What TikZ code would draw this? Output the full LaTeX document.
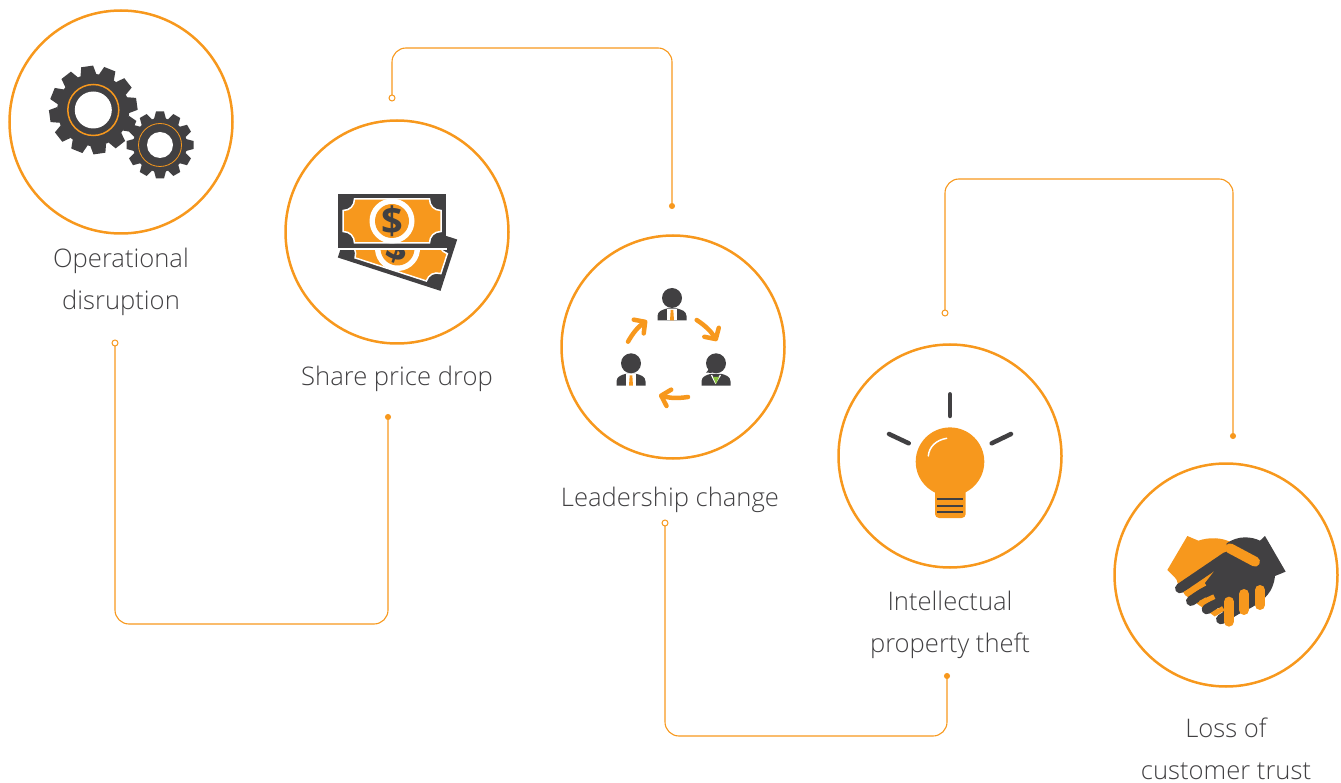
\documentclass[tikz,border=0pt]{standalone}
\usepackage{fontspec}
\setmainfont{Open Sans Light}
\newfontfamily\moneyfont{Open Sans}
\usetikzlibrary{arrows.meta}
\definecolor{brandorange}{HTML}{F7981D}
\definecolor{icondark}{HTML}{414042}
\definecolor{tiegreen}{HTML}{8CC63F}
\tikzset{
  ring/.style={draw=brandorange, circle, line width=2.5, minimum size=223, inner sep=0, outer sep=0},
  caption/.style={text=icondark, align=center, inner sep=0, anchor=base, font=\fontsize{25.6}{42}\selectfont},
  link/.style={draw=brandorange, line width=1.1, rounded corners=14},
  openend/.style={draw=brandorange, fill=white, circle, line width=1, minimum size=6, inner sep=0, outer sep=0},
  dotend/.style={draw=brandorange, fill=brandorange, circle, line width=1, minimum size=5, inner sep=0, outer sep=0},
  turn/.style={draw=brandorange, line width=4.5, line cap=round, -{Straight Barb[round, length=8, width=17]}},
  ray/.style={draw=icondark, line width=4.5, line cap=round}
}
% gear: centre x, centre y, tip radius, root radius, tooth half width, start angle
\newcommand{\gearwheel}[6]{
  \fill[icondark] (#1,#2) circle[radius=#4];
  \foreach \a in {0,30,...,330}
    \fill[icondark, shift={(#1,#2)}, rotate=\a+#6] (#3,-#5+1) -- (#3,#5-1) -- (#4-1,#5+1) -- (#4-1,-#5-1) -- cycle;
}
% banknote around its own centre
\newcommand{\banknote}{
  \fill[icondark] (-54,-27) rectangle (54,27);
  \fill[brandorange, draw=white, line width=1.5] (-37.5,-22) -- (37.5,-22)
    .. controls (37.5,-15.5) and (42,-10.5) .. (49,-10.5) -- (49,10.5)
    .. controls (42,10.5) and (37.5,15.5) .. (37.5,22) -- (-37.5,22)
    .. controls (-37.5,15.5) and (-42,10.5) .. (-49,10.5) -- (-49,-10.5)
    .. controls (-42,-10.5) and (-37.5,-15.5) .. (-37.5,-22) -- cycle;
  \fill[white] (0,0) circle[radius=22.5];
  \fill[brandorange] (0,0) circle[radius=17];
  \node[text=icondark, inner sep=0, font=\moneyfont\bfseries\fontsize{38}{38}\selectfont] at (0,0) {\$};
}
% person: head centre x, y, tie colour
\newcommand{\manicon}[2]{
  \fill[icondark] (#1,#2) circle[radius=10];
  \fill[icondark, shift={(#1,#2)}] (-14.5,22.4) -- (-14.5,18) .. controls (-14.5,13) and (-9,11.5) .. (-5,10.5) -- (5,10.5) .. controls (9,11.5) and (14.5,13) .. (14.5,18) -- (14.5,22.4) -- cycle;
  \fill[white, shift={(#1,#2)}] (-4.8,11) rectangle (4.8,22.4);
  \fill[brandorange, shift={(#1,#2)}] (-1.3,12) -- (1.3,12) -- (2,22.4) -- (-2,22.4) -- cycle;
}
\begin{document}
\begin{tikzpicture}[x=1pt, y=-1pt]
\useasboundingbox (0,0) rectangle (1341,783);

\node[ring] (gearring) at (121,122) {};
\node[ring] (moneyring) at (397,232) {};
\node[ring] (peoplering) at (673,347) {};
\node[ring] (bulbring) at (950,456) {};
\node[ring] (handring) at (1226,575) {};

\node[caption] (gearcap) at (121,309.5) {Operational\\disruption};
\node[caption] (moneycap) at (397,385) {Share price drop};
\node[caption] (peoplecap) at (670,506) {Leadership change};
\node[caption] (bulbcap) at (950,652) {Intellectual\\property theft};
\node[caption] (handcap) at (1226,779) {Loss of\\customer trust};

% connectors
\node[openend] (gearfrom) at (115,343) {};
\node[dotend] (moneyto) at (388,417) {};
\node[openend] (moneyfrom) at (392,98) {};
\node[dotend] (peopleto) at (672,206) {};
\node[openend] (peoplefrom) at (665,523) {};
\node[dotend] (bulbto) at (947,676) {};
\node[openend] (bulbfrom) at (945,313) {};
\node[dotend] (handto) at (1233,436) {};
\coordinate (lowa) at (250,624);
\coordinate (higha) at (530,48);
\coordinate (lowb) at (800,736);
\coordinate (highb) at (1090,179);
\draw[link] (gearfrom) -- (gearfrom |- lowa) -- (moneyto |- lowa) -- (moneyto);
\draw[link] (moneyfrom) -- (moneyfrom |- higha) -- (peopleto |- higha) -- (peopleto);
\draw[link] (peoplefrom) -- (peoplefrom |- lowb) -- (bulbto |- lowb) -- (bulbto);
\draw[link] (bulbfrom) -- (bulbfrom |- highb) -- (handto |- highb) -- (handto);

% gears
\gearwheel{93.3}{110}{44}{36}{7}{8}
\fill[white] (93.3,110) circle[radius=18.5];
\draw[brandorange, line width=1.5] (93.3,110) circle[radius=25.5];
\gearwheel{160}{145}{33.5}{27}{5}{0}
\fill[white] (160,145) circle[radius=13];
\draw[brandorange, line width=.8] (160,145) circle[radius=21.5];

% money
\begin{scope}[shift={(397.5,248.5)}, rotate=-18, transform shape]
  \banknote
\end{scope}
\fill[white] (337,248) rectangle (447,250);
\begin{scope}[shift={(392,221)}]
  \banknote
\end{scope}

% people
\manicon{672}{298}
\manicon{631}{363.3}
\fill[icondark] (716,363.3) circle[radius=10];
\fill[icondark] (709,368) .. controls (708,371) and (707,372) .. (706,372.5) -- (712,373) -- cycle;
\fill[icondark, shift={(716,363.3)}] (-14.5,22.4) -- (-14.5,18) .. controls (-14.5,13) and (-9,11.5) .. (-5,10.5) -- (5,10.5) .. controls (9,11.5) and (14.5,13) .. (14.5,18) -- (14.5,22.4) -- cycle;
\draw[white, line width=1.2] (711.5,375) -- (715.5,383) -- (720.5,375);
\fill[tiegreen] (713,377) -- (719,377) -- (716,384) -- cycle;
\draw[turn] (696.7,320) to[bend left=12] (717,341);
\draw[turn] (628,341.7) to[bend left=12] (647,320.5);
\draw[turn] (688,397) to[bend left=12] (659,395);

% bulb
\fill[brandorange] (950,461.7) circle[radius=34.3];
\fill[brandorange, rounded corners=4] (935,485) rectangle (965.7,518);
\draw[icondark, line width=2.3] (937,499) -- (963,499) (937,505.7) -- (963,505.7) (937,512.3) -- (963,512.3);
\draw[white, line width=1.5, line cap=round] (928.3,456) .. controls (929,447) and (936,440) .. (946.7,438.3);
\draw[ray] (950,394.3) -- (950,416);
\draw[ray] (889,434) -- (908.7,443.3);
\draw[ray] (1011,434) -- (991.7,443.3);

% handshake, numbers as in a 3x crop
\begin{scope}[shift={(1155,520)}, x=.3333pt, y=-.3333pt]
  \fill[brandorange] (97,48) -- (130,62) .. controls (160,52) and (200,50) .. (235,70) -- (300,120) -- (215,170) -- (180,290) -- (90,225) -- (68,190) .. controls (68,175) and (50,165) .. (37,150) -- cycle;
  \fill[icondark] (330,48) -- (392,155) -- (360,168) .. controls (355,215) and (330,240) .. (285,265) -- (225,295) -- (180,255) -- (130,215) -- (215,105) -- (215,70) .. controls (250,45) and (290,50) .. (315,62) -- cycle;
  \draw[icondark, line width=10, line cap=round] (75,205) -- (215,110);
  \draw[icondark, line width=10, line cap=round] (108,243) -- (200,180);
  \draw[icondark, line width=10, line cap=round] (155,268) -- (230,220);
  \draw[icondark, line width=10, line cap=round] (198,298) -- (250,265);
  \draw[brandorange, line width=5] (90,222) -- (150,190);
  \draw[brandorange, line width=5] (135,250) -- (178,230);
  \draw[brandorange, line width=5] (178,282) -- (205,265);
  \draw[brandorange, line width=10, line cap=round] (225,85) -- (300,125);
  \draw[brandorange, line width=10, line cap=round] (222,245) -- (222,305);
  \draw[brandorange, line width=10, line cap=round] (267,222) -- (267,270);
  \draw[brandorange, line width=10, line cap=round] (315,210) -- (315,255);
\end{scope}
\end{tikzpicture}
\end{document}
